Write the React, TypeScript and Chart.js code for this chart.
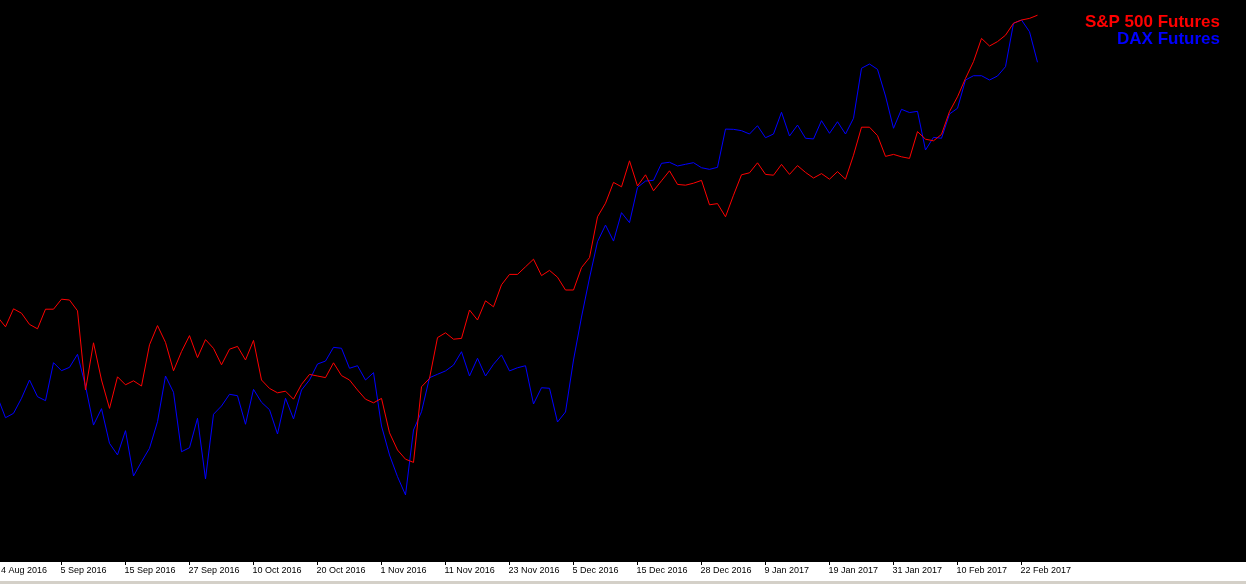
import React, { useEffect, useRef } from "react";
import { Chart, registerables } from "chart.js";

Chart.register(...registerables);

const seriesNames = ["S&P 500 Futures", "DAX Futures"];
const seriesColors = ["#ff0000", "#0000ff"];

// Daily closes, first bar is one bar left of the visible window
const sp500 = [
  2176, 2169.75, 2181, 2178.25, 2171.25, 2168.5, 2180.75, 2180.75, 2187, 2186.5,
  2179.75, 2130.25, 2159.75, 2136.5, 2118.75, 2138.5, 2133.5, 2136, 2132.75, 2158.5,
  2170.5, 2160, 2142.25, 2154.25, 2164.25, 2150.5, 2161.75, 2156.25, 2146, 2155.75,
  2157.5, 2149, 2161.25, 2136.5, 2131.25, 2128.5, 2129.5, 2124.5, 2133.75, 2140,
  2139, 2138, 2147.25, 2139.25, 2136.5, 2130.25, 2124.5, 2122.25, 2125, 2103.5,
  2092.75, 2087, 2085, 2132.25, 2137.5, 2163, 2166, 2162, 2162.5, 2180.25,
  2174, 2186, 2182.25, 2196, 2202.5, 2202.5, 2207.25, 2212, 2201.75, 2205,
  2200.75, 2192.75, 2192.75, 2206.75, 2213, 2238.5, 2247, 2260, 2257.25, 2273.5,
  2257.75, 2264.75, 2254.75, 2261, 2267.25, 2258.75, 2258.25, 2259.5, 2261.25, 2246,
  2246.75, 2238.5, 2252, 2264.75, 2266, 2272.25, 2265, 2264.5, 2271.25, 2265,
  2270.5, 2266.25, 2262.75, 2265.5, 2262, 2266.75, 2262, 2277, 2294.5, 2294.5,
  2289.25, 2276.25, 2277.5, 2276, 2275, 2291.75, 2287, 2286, 2290, 2304.25,
  2313.5, 2325, 2335.5, 2350, 2345.25, 2348, 2352, 2359.5, 2361.5, 2362.5,
  2364.5,
];

const dax = [
  10586, 10508.5, 10525, 10581.5, 10650, 10587.5, 10572.5, 10715, 10685, 10697.5,
  10746.5, 10627.5, 10481, 10542.5, 10412.5, 10369, 10460, 10290, 10343.5, 10394,
  10493.5, 10665, 10604, 10381, 10396, 10506.5, 10279, 10521.5, 10552.5, 10596.5,
  10591, 10484, 10615, 10566.5, 10538.5, 10447.5, 10581.5, 10504, 10612.5, 10650,
  10710, 10721, 10772.5, 10769, 10694, 10703.5, 10650, 10677.5, 10477.5, 10369,
  10287.5, 10219, 10462.5, 10531, 10658.5, 10671.5, 10684, 10706, 10756, 10665,
  10731.5, 10665, 10709, 10744, 10684, 10696, 10703.5, 10560, 10621, 10619,
  10492.5, 10530, 10725, 10886, 11032.5, 11168.5, 11231, 11171, 11277.5, 11240,
  11372.5, 11396, 11399, 11462.5, 11466.5, 11452.5, 11459, 11465, 11446, 11440,
  11447.5, 11591, 11590, 11585, 11572.5, 11603.5, 11558.5, 11572.5, 11654, 11565,
  11606, 11556.5, 11554, 11622.5, 11575, 11618.5, 11572.5, 11631.5, 11819, 11835,
  11815, 11715, 11594, 11665, 11653, 11657.5, 11512.5, 11560, 11556.5, 11647.5,
  11669, 11775, 11791, 11791, 11775, 11790, 11825, 11987.5, 12000, 11956,
  11841.5,
];

const tickLabels = [
  "4 Aug 2016", "5 Sep 2016", "15 Sep 2016", "27 Sep 2016", "10 Oct 2016",
  "20 Oct 2016", "1 Nov 2016", "11 Nov 2016", "23 Nov 2016", "5 Dec 2016",
  "15 Dec 2016", "28 Dec 2016", "9 Jan 2017", "19 Jan 2017", "31 Jan 2017",
  "10 Feb 2017", "22 Feb 2017",
];

// layout constants
const FIRST_BAR = -1; // index of first data bar
const BAR_PX = 8;
const FIRST_BAR_OFFSET_PX = 5.5;
const CANVAS_W = 1246;
const CANVAS_H = 584;

export default function App() {
  const ref = useRef<HTMLCanvasElement | null>(null);

  useEffect(() => {
    document.body.style.margin = "0";
    document.body.style.background = "#000";
    const canvas = ref.current;
    if (!canvas) return;

    const xMin = -FIRST_BAR_OFFSET_PX / BAR_PX;
    const xMax = xMin + CANVAS_W / BAR_PX;
    const firstLabelValue = xMin + 2 / BAR_PX;
    const tickValues = [firstLabelValue];
    for (let i = 1; i < tickLabels.length; i++) tickValues.push(7 + 8 * (i - 1));

    const bgPlugin = {
      id: "mtBackground",
      beforeDraw(chart: any) {
        const { ctx, width, height, chartArea } = chart;
        ctx.save();
        ctx.fillStyle = "#000000";
        ctx.fillRect(0, 0, width, height);
        ctx.fillStyle = "#ffffff";
        ctx.fillRect(0, chartArea.bottom, width, 19);
        ctx.fillStyle = "#d4d0c8";
        ctx.fillRect(0, chartArea.bottom + 19, width, height - chartArea.bottom - 19);
        ctx.restore();
      },
    };

    const legendPlugin = {
      id: "mtLegend",
      afterDraw(chart: any) {
        const ctx = chart.ctx;
        ctx.save();
        ctx.font = "bold 17px 'Liberation Sans', Arial, sans-serif";
        ctx.textAlign = "right";
        ctx.textBaseline = "alphabetic";
        chart.data.datasets.forEach((ds: any, i: number) => {
          ctx.fillStyle = ds.borderColor;
          ctx.fillText(ds.label, 1220, 27 + i * 17);
        });
        ctx.restore();
      },
    };

    const chart = new Chart(canvas, {
      type: "line",
      data: {
        datasets: [
          {
            label: seriesNames[0],
            data: sp500.map((v, i) => ({ x: i + FIRST_BAR, y: v })),
            borderColor: seriesColors[0],
            backgroundColor: seriesColors[0],
            borderWidth: 1,
            pointRadius: 0,
            tension: 0,
            yAxisID: "y",
          },
          {
            label: seriesNames[1],
            data: dax.map((v, i) => ({ x: i + FIRST_BAR, y: v })),
            borderColor: seriesColors[1],
            backgroundColor: seriesColors[1],
            borderWidth: 1,
            pointRadius: 0,
            tension: 0,
            yAxisID: "y2",
          },
        ],
      },
      options: {
        responsive: false,
        animation: false,
        devicePixelRatio: 1,
        layout: { padding: 0 },
        plugins: {
          legend: { display: false },
          tooltip: { enabled: false },
          title: { display: false },
        },
        scales: {
          x: {
            type: "linear",
            min: xMin,
            max: xMax,
            afterBuildTicks: (scale: any) => {
              scale.ticks = tickValues.map((v) => ({ value: v }));
            },
            afterFit: (scale: any) => {
              scale.height = 22;
            },
            ticks: {
              autoSkip: false,
              maxRotation: 0,
              minRotation: 0,
              align: "start",
              labelOffset: -1,
              padding: 0,
              color: "#000000",
              font: { family: "'Liberation Sans', Arial, sans-serif", size: 9, lineHeight: 1.3 },
              callback: (_v: any, i: number) => tickLabels[i],
            },
            grid: {
              display: true,
              drawOnChartArea: false,
              drawTicks: true,
              tickLength: 3,
              tickWidth: 1,
              tickColor: (ctx: any) => (ctx.index === 0 ? "rgba(0,0,0,0)" : "#000000"),
            },
            border: { display: false },
          },
          y: {
            display: false,
            min: 2022.75,
            max: 2374,
          },
          y2: {
            display: false,
            min: 9967.5,
            max: 12075,
          },
        },
      } as any,
      plugins: [bgPlugin, legendPlugin],
    });

    return () => chart.destroy();
  }, []);

  return (
    <canvas
      ref={ref}
      width={CANVAS_W}
      height={CANVAS_H}
      style={{ display: "block", width: CANVAS_W, height: CANVAS_H }}
    />
  );
}
